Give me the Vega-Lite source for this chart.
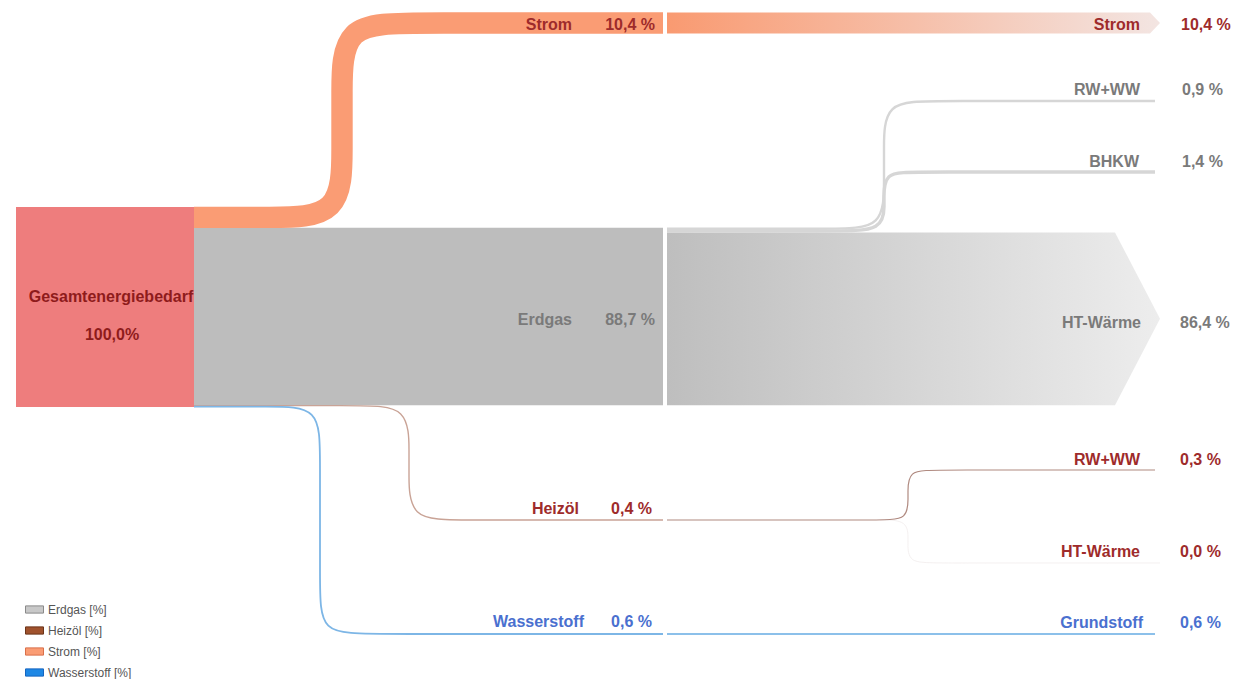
{
  "$schema": "https://vega.github.io/schema/vega-lite/v6.json",
  "width": 1233,
  "height": 679,
  "autosize": {"type": "none"},
  "padding": 0,
  "background": "white",
  "config": {"view": {"stroke": null}},
  "resolve": {"scale": {"color": "independent", "size": "independent"}},
  "datasets": {
    "paths": [
      {"flow": "Strom", "seq": 1, "x": 194, "y": 5.2, "share": 10.4},
      {"flow": "Strom", "seq": 2, "x": 270, "y": 5.2, "share": 10.4},
      {"flow": "Strom", "seq": 3, "x": 342, "y": 5.2, "share": 10.4},
      {"flow": "Strom", "seq": 4, "x": 342, "y": -30.8, "share": 10.4},
      {"flow": "Strom", "seq": 5, "x": 342, "y": -56, "share": 10.4},
      {"flow": "Strom", "seq": 6, "x": 342, "y": -92, "share": 10.4},
      {"flow": "Strom", "seq": 7, "x": 414, "y": -92, "share": 10.4},
      {"flow": "Strom", "seq": 8, "x": 663, "y": -92, "share": 10.4},

      {"flow": "Erdgas RW+WW", "seq": 1, "x": 667, "y": 10.85, "share": 0.9},
      {"flow": "Erdgas RW+WW", "seq": 2, "x": 834, "y": 10.85, "share": 0.9},
      {"flow": "Erdgas RW+WW", "seq": 3, "x": 884, "y": 10.85, "share": 0.9},
      {"flow": "Erdgas RW+WW", "seq": 4, "x": 884, "y": -14.15, "share": 0.9},
      {"flow": "Erdgas RW+WW", "seq": 5, "x": 884, "y": -28, "share": 0.9},
      {"flow": "Erdgas RW+WW", "seq": 6, "x": 884, "y": -53, "share": 0.9},
      {"flow": "Erdgas RW+WW", "seq": 7, "x": 934, "y": -53, "share": 0.9},
      {"flow": "Erdgas RW+WW", "seq": 8, "x": 1155, "y": -53, "share": 0.9},

      {"flow": "Erdgas BHKW", "seq": 1, "x": 667, "y": 12.0, "share": 1.4},
      {"flow": "Erdgas BHKW", "seq": 2, "x": 834, "y": 12.0, "share": 1.4},
      {"flow": "Erdgas BHKW", "seq": 3, "x": 884, "y": 12.0, "share": 1.4},
      {"flow": "Erdgas BHKW", "seq": 4, "x": 884, "y": -2.5, "share": 1.4},
      {"flow": "Erdgas BHKW", "seq": 5, "x": 884, "y": -3, "share": 1.4},
      {"flow": "Erdgas BHKW", "seq": 6, "x": 884, "y": -17.5, "share": 1.4},
      {"flow": "Erdgas BHKW", "seq": 7, "x": 913, "y": -17.5, "share": 1.4},
      {"flow": "Erdgas BHKW", "seq": 8, "x": 1155, "y": -17.5, "share": 1.4},

      {"flow": "Heizöl HT-Wärme", "seq": 1, "x": 880, "y": 156.5, "share": 0.0},
      {"flow": "Heizöl HT-Wärme", "seq": 2, "x": 908, "y": 156.5, "share": 0.0},
      {"flow": "Heizöl HT-Wärme", "seq": 3, "x": 908, "y": 167, "share": 0.0},
      {"flow": "Heizöl HT-Wärme", "seq": 4, "x": 908, "y": 167.5, "share": 0.0},
      {"flow": "Heizöl HT-Wärme", "seq": 5, "x": 908, "y": 178, "share": 0.0},
      {"flow": "Heizöl HT-Wärme", "seq": 6, "x": 936, "y": 178, "share": 0.0},
      {"flow": "Heizöl HT-Wärme", "seq": 7, "x": 1160, "y": 178, "share": 0.0},

      {"flow": "Heizöl", "seq": 1, "x": 194, "y": 99.3, "share": 0.4},
      {"flow": "Heizöl", "seq": 2, "x": 359, "y": 99.3, "share": 0.4},
      {"flow": "Heizöl", "seq": 3, "x": 409, "y": 99.3, "share": 0.4},
      {"flow": "Heizöl", "seq": 4, "x": 409, "y": 124.3, "share": 0.4},
      {"flow": "Heizöl", "seq": 5, "x": 409, "y": 131.5, "share": 0.4},
      {"flow": "Heizöl", "seq": 6, "x": 409, "y": 156.5, "share": 0.4},
      {"flow": "Heizöl", "seq": 7, "x": 459, "y": 156.5, "share": 0.4},
      {"flow": "Heizöl", "seq": 8, "x": 663, "y": 156.5, "share": 0.4},

      {"flow": "Heizöl RW+WW", "seq": 1, "x": 667, "y": 156.5, "share": 0.3},
      {"flow": "Heizöl RW+WW", "seq": 2, "x": 881, "y": 156.5, "share": 0.3},
      {"flow": "Heizöl RW+WW", "seq": 3, "x": 908, "y": 156.5, "share": 0.3},
      {"flow": "Heizöl RW+WW", "seq": 4, "x": 908, "y": 144.2, "share": 0.3},
      {"flow": "Heizöl RW+WW", "seq": 5, "x": 908, "y": 143.8, "share": 0.3},
      {"flow": "Heizöl RW+WW", "seq": 6, "x": 908, "y": 131.5, "share": 0.3},
      {"flow": "Heizöl RW+WW", "seq": 7, "x": 935, "y": 131.5, "share": 0.3},
      {"flow": "Heizöl RW+WW", "seq": 8, "x": 1155, "y": 131.5, "share": 0.3},

      {"flow": "Wasserstoff", "seq": 1, "x": 194, "y": 99.8, "share": 0.6},
      {"flow": "Wasserstoff", "seq": 2, "x": 270, "y": 99.8, "share": 0.6},
      {"flow": "Wasserstoff", "seq": 3, "x": 320, "y": 99.8, "share": 0.6},
      {"flow": "Wasserstoff", "seq": 4, "x": 320, "y": 124.8, "share": 0.6},
      {"flow": "Wasserstoff", "seq": 5, "x": 320, "y": 188.5, "share": 0.6},
      {"flow": "Wasserstoff", "seq": 6, "x": 320, "y": 213.5, "share": 0.6},
      {"flow": "Wasserstoff", "seq": 7, "x": 370, "y": 213.5, "share": 0.6},
      {"flow": "Wasserstoff", "seq": 8, "x": 663, "y": 213.5, "share": 0.6},

      {"flow": "Wasserstoff Grundstoff", "seq": 1, "x": 667, "y": 213.5, "share": 0.6},
      {"flow": "Wasserstoff Grundstoff", "seq": 2, "x": 1155, "y": 213.5, "share": 0.6}
    ],
    "labels": [
      {"label": "Strom", "x": 572, "y": -91, "group": "rot"},
      {"label": "10,4 %", "x": 655, "y": -91, "group": "rot"},
      {"label": "Erdgas", "x": 572, "y": 56.5, "group": "grau"},
      {"label": "88,7 %", "x": 655, "y": 56.5, "group": "grau"},
      {"label": "Heizöl", "x": 579, "y": 151, "group": "rot"},
      {"label": "0,4 %", "x": 652, "y": 151, "group": "rot"},
      {"label": "Wasserstoff", "x": 584, "y": 207.5, "group": "blau"},
      {"label": "0,6 %", "x": 652, "y": 207.5, "group": "blau"},
      {"label": "Strom", "x": 1140, "y": -91, "group": "rot"},
      {"label": "RW+WW", "x": 1140, "y": -58.5, "group": "grau"},
      {"label": "BHKW", "x": 1139, "y": -22.5, "group": "grau"},
      {"label": "HT-Wärme", "x": 1141, "y": 58, "group": "grau"},
      {"label": "RW+WW", "x": 1140, "y": 126.5, "group": "rot"},
      {"label": "HT-Wärme", "x": 1140, "y": 172.5, "group": "rot"},
      {"label": "Grundstoff", "x": 1143, "y": 208, "group": "blau"}
    ],
    "values": [
      {"label": "10,4 %", "x": 1181, "y": -91, "group": "rot"},
      {"label": "0,9 %", "x": 1182, "y": -58.5, "group": "grau"},
      {"label": "1,4 %", "x": 1182, "y": -22.5, "group": "grau"},
      {"label": "86,4 %", "x": 1180, "y": 58, "group": "grau"},
      {"label": "0,3 %", "x": 1180, "y": 126.5, "group": "rot"},
      {"label": "0,0 %", "x": 1180, "y": 172.5, "group": "rot"},
      {"label": "0,6 %", "x": 1180, "y": 208, "group": "blau"}
    ]
  },
  "layer": [
    {
      "data": {"values": [{"node": "Gesamtenergiebedarf", "x0": 16, "x1": 194, "y0": 0, "y1": 100}]},
      "mark": {"type": "rect", "fill": "#EE7D7D"},
      "encoding": {
        "x": {"field": "x0", "type": "quantitative", "scale": {"domain": [0, 1233], "nice": false, "zero": false}, "axis": null},
        "x2": {"field": "x1"},
        "y": {"field": "y0", "type": "quantitative", "scale": {"domain": [-103.5, 236], "nice": false, "zero": false, "reverse": true}, "axis": null},
        "y2": {"field": "y1"}
      }
    },
    {
      "data": {"values": [{"node": "Erdgas", "x0": 194, "x1": 663, "y0": 10.4, "y1": 99.1}]},
      "mark": {"type": "rect", "fill": "#BDBDBD"},
      "encoding": {
        "x": {"field": "x0", "type": "quantitative", "scale": {"domain": [0, 1233], "nice": false, "zero": false}, "axis": null},
        "x2": {"field": "x1"},
        "y": {"field": "y0", "type": "quantitative", "scale": {"domain": [-103.5, 236], "nice": false, "zero": false, "reverse": true}, "axis": null},
        "y2": {"field": "y1"}
      }
    },
    {
      "data": {"values": [
        {"flow": "Erdgas HT-Wärme", "x": 667, "y0": 12.7, "y1": 99.1},
        {"flow": "Erdgas HT-Wärme", "x": 1115, "y0": 12.7, "y1": 99.1},
        {"flow": "Erdgas HT-Wärme", "x": 1160, "y0": 55.9, "y1": 55.9}
      ]},
      "mark": {"type": "area", "interpolate": "linear", "fill": {"gradient": "linear", "x1": 0, "x2": 1, "y1": 0, "y2": 0, "stops": [{"offset": 0, "color": "#BEBEBE"}, {"offset": 1, "color": "#EDEDED"}]}},
      "encoding": {
        "x": {"field": "x", "type": "quantitative", "scale": {"domain": [0, 1233], "nice": false, "zero": false}, "axis": null},
        "y": {"field": "y0", "type": "quantitative", "scale": {"domain": [-103.5, 236], "nice": false, "zero": false, "reverse": true}, "axis": null},
        "y2": {"field": "y1"}
      }
    },
    {
      "data": {"values": [
        {"flow": "Strom", "x": 667, "y0": -97.2, "y1": -86.8},
        {"flow": "Strom", "x": 1150, "y0": -97.2, "y1": -86.8},
        {"flow": "Strom", "x": 1160, "y0": -92, "y1": -92}
      ]},
      "mark": {"type": "area", "interpolate": "linear", "fill": {"gradient": "linear", "x1": 0, "x2": 1, "y1": 0, "y2": 0, "stops": [{"offset": 0, "color": "#F99A71"}, {"offset": 0.5, "color": "#F6BFA9"}, {"offset": 1, "color": "#F3E5E2"}]}},
      "encoding": {
        "x": {"field": "x", "type": "quantitative", "scale": {"domain": [0, 1233], "nice": false, "zero": false}, "axis": null},
        "y": {"field": "y0", "type": "quantitative", "scale": {"domain": [-103.5, 236], "nice": false, "zero": false, "reverse": true}, "axis": null},
        "y2": {"field": "y1"}
      }
    },
    {
      "data": {"name": "paths"},
      "mark": {"type": "line", "interpolate": "basis", "strokeCap": "butt", "strokeJoin": "round"},
      "encoding": {
        "x": {"field": "x", "type": "quantitative", "scale": {"domain": [0, 1233], "nice": false, "zero": false}, "axis": null},
        "y": {"field": "y", "type": "quantitative", "scale": {"domain": [-103.5, 236], "nice": false, "zero": false, "reverse": true}, "axis": null},
        "order": {"field": "seq", "type": "quantitative"},
        "color": {"field": "flow", "type": "nominal", "legend": null, "scale": {
          "domain": ["Strom", "Erdgas RW+WW", "Erdgas BHKW", "Heizöl HT-Wärme", "Heizöl", "Heizöl RW+WW", "Wasserstoff", "Wasserstoff Grundstoff"],
          "range": ["#FA9C74", "#D6D6D6", "#D6D6D6", "#ECE6E6", "#C9A396", "#B08A80", "#7DB6E6", "#8CC0EA"]}},
        "size": {"field": "share", "type": "quantitative", "legend": null, "scale": {"domain": [0, 100], "range": [0.6, 200.6]}}
      }
    },
    {
      "data": {"name": "labels"},
      "mark": {"type": "text", "align": "right", "baseline": "middle", "font": "Liberation Sans", "fontWeight": "bold", "fontSize": 16},
      "encoding": {
        "x": {"field": "x", "type": "quantitative", "scale": {"domain": [0, 1233], "nice": false, "zero": false}, "axis": null},
        "y": {"field": "y", "type": "quantitative", "scale": {"domain": [-103.5, 236], "nice": false, "zero": false, "reverse": true}, "axis": null},
        "text": {"field": "label"},
        "color": {"field": "group", "type": "nominal", "legend": null, "scale": {"domain": ["rot", "grau", "blau"], "range": ["#9E2B2B", "#7A7A7A", "#4A70CF"]}}
      }
    },
    {
      "data": {"name": "values"},
      "mark": {"type": "text", "align": "left", "baseline": "middle", "font": "Liberation Sans", "fontWeight": "bold", "fontSize": 16},
      "encoding": {
        "x": {"field": "x", "type": "quantitative", "scale": {"domain": [0, 1233], "nice": false, "zero": false}, "axis": null},
        "y": {"field": "y", "type": "quantitative", "scale": {"domain": [-103.5, 236], "nice": false, "zero": false, "reverse": true}, "axis": null},
        "text": {"field": "label"},
        "color": {"field": "group", "type": "nominal", "legend": null, "scale": {"domain": ["rot", "grau", "blau"], "range": ["#9E2B2B", "#7A7A7A", "#4A70CF"]}}
      }
    },
    {
      "data": {"values": [
        {"label": "Gesamtenergiebedarf", "x": 111, "y": 45},
        {"label": "100,0%", "x": 112, "y": 64}
      ]},
      "mark": {"type": "text", "align": "center", "baseline": "middle", "font": "Liberation Sans", "fontWeight": "bold", "fontSize": 16, "color": "#8E1B1B"},
      "encoding": {
        "x": {"field": "x", "type": "quantitative", "scale": {"domain": [0, 1233], "nice": false, "zero": false}, "axis": null},
        "y": {"field": "y", "type": "quantitative", "scale": {"domain": [-103.5, 236], "nice": false, "zero": false, "reverse": true}, "axis": null},
        "text": {"field": "label"}
      }
    },
    {
      "data": {"values": [
        {"carrier": "Erdgas [%]"},
        {"carrier": "Heizöl  [%]"},
        {"carrier": "Strom [%]"},
        {"carrier": "Wasserstoff  [%]"}
      ]},
      "mark": {"type": "square", "opacity": 0, "filled": true},
      "encoding": {
        "fill": {"field": "carrier", "type": "nominal",
          "scale": {"domain": ["Erdgas [%]", "Heizöl  [%]", "Strom [%]", "Wasserstoff  [%]"], "range": ["#C8C8C8", "#A0522D", "#FA9C74", "#1E88E5"]},
          "legend": {"title": null, "orient": "none", "legendX": 25, "legendY": 600, "symbolType": "M-1,-0.4H1V0.4H-1Z", "symbolSize": 324, "symbolStrokeWidth": 1, "symbolOpacity": 1, "labelFontSize": 12, "labelFont": "Liberation Sans", "labelColor": "#555555", "rowPadding": 5, "labelOffset": 4, "padding": 0}},
        "stroke": {"field": "carrier", "type": "nominal",
          "scale": {"domain": ["Erdgas [%]", "Heizöl  [%]", "Strom [%]", "Wasserstoff  [%]"], "range": ["#8A8A8A", "#6B3419", "#D9704A", "#1565C0"]},
          "legend": {"title": null, "orient": "none", "legendX": 25, "legendY": 600, "symbolType": "M-1,-0.4H1V0.4H-1Z", "symbolSize": 324, "symbolStrokeWidth": 1, "symbolOpacity": 1, "labelFontSize": 12, "labelFont": "Liberation Sans", "labelColor": "#555555", "rowPadding": 5, "labelOffset": 4, "padding": 0}}
      }
    }
  ]
}
